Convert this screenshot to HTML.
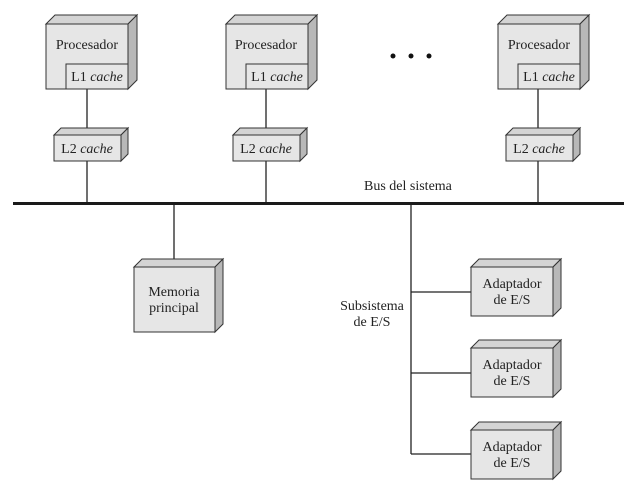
<!DOCTYPE html>
<html><head><meta charset="utf-8"><style>
html,body{margin:0;padding:0;background:#fff;}
svg{display:block;}
text{font-family:"Liberation Serif",serif;font-size:14px;fill:#222;}
</style></head><body>
<svg width="638" height="492" viewBox="0 0 638 492" xmlns="http://www.w3.org/2000/svg">
<g stroke="#222" stroke-width="1.3" stroke-linejoin="miter">
<line x1="87" y1="89" x2="87" y2="135"/><line x1="87" y1="161" x2="87" y2="203"/>
<line x1="266" y1="89" x2="266" y2="135"/><line x1="266" y1="161" x2="266" y2="203"/>
<line x1="538" y1="89" x2="538" y2="135"/><line x1="538" y1="161" x2="538" y2="203"/>
<line x1="174" y1="203" x2="174" y2="260"/>
<line x1="411" y1="203" x2="411" y2="454"/>
<line x1="411" y1="292" x2="471" y2="292"/>
<line x1="411" y1="373" x2="471" y2="373"/>
<line x1="411" y1="454" x2="471" y2="454"/>
</g>
<rect x="13" y="202" width="611" height="3" fill="#1a1a1a"/>

<g stroke="#333" stroke-width="1">
<polygon points="46,24 55,15 137,15 128,24" fill="#d4d4d4"/>
<polygon points="128,24 137,15 137,80 128,89" fill="#b8b8b8"/>
<rect x="46" y="24" width="82" height="65" fill="#e6e6e6"/>
<rect x="66" y="64" width="62" height="25" fill="#e6e6e6"/>
<polygon points="226,24 235,15 317,15 308,24" fill="#d4d4d4"/>
<polygon points="308,24 317,15 317,80 308,89" fill="#b8b8b8"/>
<rect x="226" y="24" width="82" height="65" fill="#e6e6e6"/>
<rect x="246" y="64" width="62" height="25" fill="#e6e6e6"/>
<polygon points="498,24 507,15 589,15 580,24" fill="#d4d4d4"/>
<polygon points="580,24 589,15 589,80 580,89" fill="#b8b8b8"/>
<rect x="498" y="24" width="82" height="65" fill="#e6e6e6"/>
<rect x="518" y="64" width="62" height="25" fill="#e6e6e6"/>
<polygon points="54,135 61,128 128,128 121,135" fill="#d4d4d4"/>
<polygon points="121,135 128,128 128,154 121,161" fill="#b8b8b8"/>
<rect x="54" y="135" width="67" height="26" fill="#e6e6e6"/>
<polygon points="233,135 240,128 307,128 300,135" fill="#d4d4d4"/>
<polygon points="300,135 307,128 307,154 300,161" fill="#b8b8b8"/>
<rect x="233" y="135" width="67" height="26" fill="#e6e6e6"/>
<polygon points="506,135 513,128 580,128 573,135" fill="#d4d4d4"/>
<polygon points="573,135 580,128 580,154 573,161" fill="#b8b8b8"/>
<rect x="506" y="135" width="67" height="26" fill="#e6e6e6"/>
<polygon points="134,267 142,259 223,259 215,267" fill="#d4d4d4"/>
<polygon points="215,267 223,259 223,324 215,332" fill="#b8b8b8"/>
<rect x="134" y="267" width="81" height="65" fill="#e6e6e6"/>
<polygon points="471,267 479,259 561,259 553,267" fill="#d4d4d4"/>
<polygon points="553,267 561,259 561,308 553,316" fill="#b8b8b8"/>
<rect x="471" y="267" width="82" height="49" fill="#e6e6e6"/>
<polygon points="471,348 479,340 561,340 553,348" fill="#d4d4d4"/>
<polygon points="553,348 561,340 561,389 553,397" fill="#b8b8b8"/>
<rect x="471" y="348" width="82" height="49" fill="#e6e6e6"/>
<polygon points="471,430 479,422 561,422 553,430" fill="#d4d4d4"/>
<polygon points="553,430 561,422 561,471 553,479" fill="#b8b8b8"/>
<rect x="471" y="430" width="82" height="49" fill="#e6e6e6"/>
</g>

<g text-anchor="middle">
<text x="87" y="49">Procesador</text>
<text x="97" y="81">L1 <tspan font-style="italic">cache</tspan></text>
<text x="266" y="49">Procesador</text>
<text x="277" y="81">L1 <tspan font-style="italic">cache</tspan></text>
<text x="539" y="49">Procesador</text>
<text x="549" y="81">L1 <tspan font-style="italic">cache</tspan></text>
<text x="87" y="153">L2 <tspan font-style="italic">cache</tspan></text>
<text x="266" y="153">L2 <tspan font-style="italic">cache</tspan></text>
<text x="539" y="153">L2 <tspan font-style="italic">cache</tspan></text>
<text x="174" y="296">Memoria</text>
<text x="174" y="312">principal</text>
<text x="512" y="288">Adaptador</text>
<text x="512" y="304">de E/S</text>
<text x="512" y="369">Adaptador</text>
<text x="512" y="385">de E/S</text>
<text x="512" y="451">Adaptador</text>
<text x="512" y="467">de E/S</text>
<text x="372" y="310">Subsistema</text>
<text x="372" y="326">de E/S</text>
</g>
<text x="364" y="190">Bus del sistema</text>
<circle cx="393" cy="56" r="2.5" fill="#111"/>
<circle cx="411" cy="56" r="2.5" fill="#111"/>
<circle cx="429" cy="56" r="2.5" fill="#111"/>
</svg>
</body></html>
